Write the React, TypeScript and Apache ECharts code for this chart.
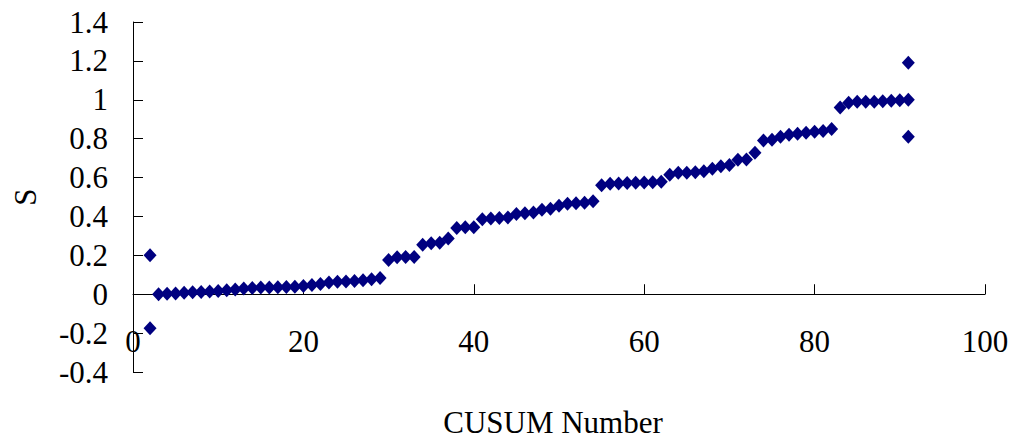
import React, { useEffect, useRef } from "react";
import * as echarts from "echarts";

// CUSUM statistic S for observations 3..91
const cusumStart = 3;
const cusumS: number[] = [
  0.0, 0.002, 0.004, 0.008, 0.01, 0.012, 0.014, 0.016, 0.02, 0.024,
  0.03, 0.032, 0.034, 0.035, 0.036, 0.037, 0.038, 0.042, 0.048, 0.053,
  0.06, 0.064, 0.066, 0.068, 0.072, 0.077, 0.083, 0.176, 0.19, 0.192,
  0.192, 0.255, 0.262, 0.265, 0.287, 0.34, 0.345, 0.345, 0.385, 0.39,
  0.392, 0.395, 0.412, 0.416, 0.42, 0.434, 0.44, 0.455, 0.465, 0.468,
  0.47, 0.478, 0.56, 0.568, 0.57, 0.572, 0.573, 0.574, 0.576, 0.578,
  0.615, 0.625, 0.625, 0.627, 0.632, 0.645, 0.658, 0.665, 0.692, 0.693,
  0.728, 0.79, 0.795, 0.81, 0.82, 0.825, 0.83, 0.835, 0.84, 0.85,
  0.96, 0.985, 0.99, 0.99, 0.99, 0.992, 0.995, 0.997, 1.0,
];

// Bound markers at the first and last observations
const boundX: number[] = [2, 2, 91, 91];
const boundS: number[] = [0.2, -0.175, 1.19, 0.81];

const xTicks = { min: 0, max: 100, interval: 20 };
const yTicks = { min: -0.4, max: 1.4, interval: 0.2 };

const FONT = "'Liberation Serif', 'Times New Roman', serif";
const NAVY = "#000080";

// Plot area in pixels; the x axis crosses the y axis at S = 0
const GRID = { left: 133, right: 31, top: 22, bottom: 74 };
const PLOT_H = 446 - GRID.top - GRID.bottom;
const zeroOffset = -PLOT_H * (0 - yTicks.min) / (yTicks.max - yTicks.min);

export default function App() {
  const ref = useRef<HTMLDivElement>(null);

  useEffect(() => {
    if (!ref.current) return;
    const chart = echarts.init(ref.current, undefined, { renderer: "svg" });

    const points: [number, number][] = cusumS.map((s, i) => [cusumStart + i, s]);
    boundX.forEach((x, i) => points.push([x, boundS[i]]));

    chart.setOption({
      animation: false,
      backgroundColor: "#ffffff",
      grid: { ...GRID, containLabel: false, outerBoundsMode: "none" },
      xAxis: {
        type: "value",
        ...xTicks,
        offset: zeroOffset,
        name: "CUSUM Number",
        nameLocation: "middle",
        nameGap: 113,
        nameTextStyle: { fontFamily: FONT, fontSize: 31, color: "#000", padding: [0, 12, 0, 0] },
        axisLine: { onZero: false, lineStyle: { color: "#000", width: 1 } },
        axisTick: { show: true, inside: true, length: 10, lineStyle: { color: "#000" } },
        axisLabel: { fontFamily: FONT, fontSize: 31, color: "#000", margin: 32, hideOverlap: false },
        splitLine: { show: false },
      },
      yAxis: {
        type: "value",
        ...yTicks,
        name: "S",
        nameLocation: "middle",
        nameGap: 92,
        nameRotate: 90,
        nameTextStyle: { fontFamily: FONT, fontSize: 31, color: "#000" },
        axisLine: { show: true, onZero: false, lineStyle: { color: "#000", width: 1 } },
        axisTick: { show: true, inside: true, length: 10, lineStyle: { color: "#000" } },
        axisLabel: { fontFamily: FONT, fontSize: 31, color: "#000", margin: 25, hideOverlap: false },
        splitLine: { show: false },
      },
      series: [
        {
          type: "scatter",
          data: points,
          symbol: "diamond",
          symbolSize: [13, 14],
          itemStyle: { color: NAVY, opacity: 1 },
        },
      ],
    });

    return () => chart.dispose();
  }, []);

  return (
    <div
      ref={ref}
      style={{ position: "fixed", left: 0, top: 0, width: 1016, height: 446 }}
    />
  );
}
